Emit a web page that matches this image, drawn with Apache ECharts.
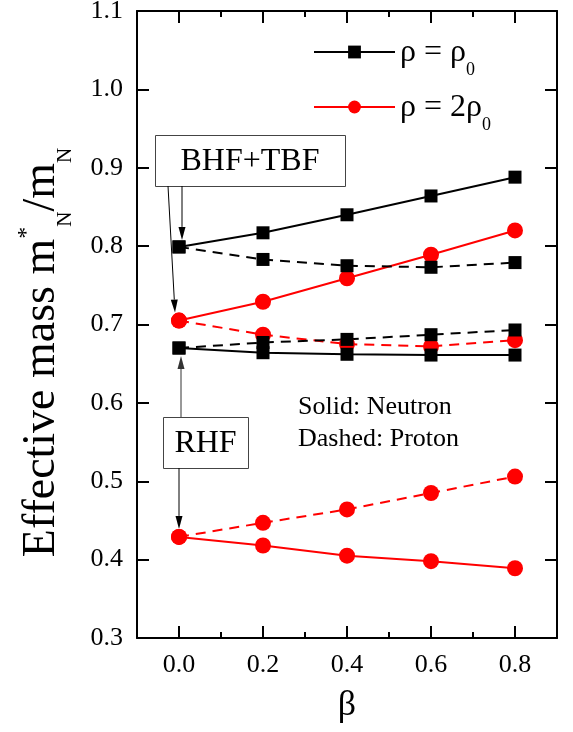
<!DOCTYPE html>
<html>
<head>
<meta charset="utf-8">
<script src="https://cdn.jsdelivr.net/npm/echarts@6/dist/echarts.min.js"></script>
<style>
  html, body { margin: 0; padding: 0; background: #fff; }
  #chart { width: 573px; height: 732px; }
</style>
</head>
<body>
<div id="chart"></div>
<script>
// beta (isospin asymmetry) values
const betaValues = [0.0, 0.2, 0.4, 0.6, 0.8];

// BHF+TBF results
const bhfNeutronRho0 = [0.799, 0.817, 0.840, 0.864, 0.888];
const bhfProtonRho0 = [0.799, 0.783, 0.775, 0.773, 0.779];
const bhfNeutron2Rho0 = [0.705, 0.729, 0.759, 0.789, 0.820];
const bhfProton2Rho0 = [0.705, 0.687, 0.675, 0.672, 0.680];

// RHF results
const rhfNeutronRho0 = [0.670, 0.664, 0.662, 0.661, 0.661];
const rhfProtonRho0 = [0.670, 0.677, 0.681, 0.687, 0.693];
const rhfNeutron2Rho0 = [0.429, 0.418, 0.405, 0.398, 0.389];
const rhfProton2Rho0 = [0.429, 0.447, 0.464, 0.485, 0.506];

const xMajorTicks = [0.0, 0.2, 0.4, 0.6, 0.8];
const xMinorTicks = [0.1, 0.3, 0.5, 0.7];

const FONT = 'Liberation Serif';
const RED = '#ff0000';
const BLACK = '#000000';
const TXT = '#000';

function pairs(ys) {
  return betaValues.map((b, i) => [b, ys[i]]);
}

function makeSeries(name, ys, color, dashed) {
  const isRed = color === RED;
  return {
    name: name,
    type: 'line',
    data: pairs(ys),
    symbol: isRed ? 'circle' : 'rect',
    symbolSize: isRed ? 16 : 13,
    itemStyle: { color: color },
    lineStyle: { color: color, width: 2, type: dashed ? [10, 7] : 'solid' },
    animation: false
  };
}

function xAxisPart(position, ticks, len, showLine, showLabel) {
  return {
    type: 'value', position: position, min: -0.1, max: 0.9,
    splitLine: { show: false },
    axisLine: { show: showLine, onZero: false, lineStyle: { color: BLACK, width: 2 } },
    axisTick: { show: true, inside: true, length: len, customValues: ticks,
                lineStyle: { color: BLACK, width: 2 } },
    axisLabel: { show: showLabel, customValues: ticks, margin: 14,
                 fontFamily: FONT, fontSize: 26, color: TXT,
                 formatter: v => v.toFixed(1) }
  };
}

// arrows from the label boxes to the beta = 0 points
// from: start pixel (box edge), off: pixel offset of the tip from the point
const arrowTargets = [
  [betaValues[0], bhfNeutronRho0[0]],
  [betaValues[0], bhfNeutron2Rho0[0]],
  [betaValues[0], rhfNeutronRho0[0]],
  [betaValues[0], rhfNeutron2Rho0[0]]
];
const arrowLayout = [
  { from: [182, 186], off: [3, -7], color: BLACK },
  { from: [168, 186], off: [-4, -8], color: BLACK },
  { from: [181, 417], off: [2, 8], color: '#333' },
  { from: [179, 468], off: [0, -8], color: BLACK }
];

function renderArrow(params, api) {
  const lay = arrowLayout[params.dataIndex];
  const p = api.coord([api.value(0), api.value(1)]);
  const x1 = lay.from[0], y1 = lay.from[1];
  const x2 = p[0] + lay.off[0], y2 = p[1] + lay.off[1];
  const ang = Math.atan2(y2 - y1, x2 - x1);
  const len = 13, half = 3.5;
  const bx = x2 - len * Math.cos(ang), by = y2 - len * Math.sin(ang);
  const nx = -Math.sin(ang) * half, ny = Math.cos(ang) * half;
  return {
    type: 'group',
    children: [
      { type: 'line', shape: { x1: x1, y1: y1, x2: bx, y2: by },
        style: { stroke: lay.color, lineWidth: 1 } },
      { type: 'polygon', shape: { points: [[x2, y2], [bx + nx, by + ny], [bx - nx, by - ny]] },
        style: { fill: lay.color } }
    ]
  };
}

function box(x, y, w, h, label) {
  return [
    { type: 'rect', shape: { x: x + 0.5, y: y + 0.5, width: w, height: h },
      style: { fill: '#fff', stroke: '#444', lineWidth: 1 }, z: 10 },
    { type: 'text', x: x + w / 2, y: y + h / 2 + 1, z: 11,
      style: { text: label, fontFamily: FONT, fontSize: 32, fill: TXT,
               align: 'center', verticalAlign: 'middle' } }
  ];
}

const chart = echarts.init(document.getElementById('chart'));

chart.setOption({
  backgroundColor: '#fff',
  animation: false,
  grid: { left: 137, right: 16, top: 11, bottom: 94, outerBoundsMode: 'none' },
  legend: {
    orient: 'vertical', left: 313, top: 34, padding: 0,
    itemWidth: 81, itemHeight: 16, itemGap: 10,
    selectedMode: false,
    data: ['rho0', 'rho2'],
    formatter: n => n === 'rho0' ? '{m|ρ = ρ}{s|0}' : '{m|ρ = 2ρ}{s|0}',
    textStyle: {
      fontFamily: FONT, color: TXT,
      rich: {
        m: { fontFamily: FONT, fontSize: 32, lineHeight: 36, verticalAlign: 'top', padding: [3, 0, 0, 0] },
        s: { fontFamily: FONT, fontSize: 18, lineHeight: 18, verticalAlign: 'top', padding: [27, 0, 0, 0] }
      }
    }
  },
  xAxis: [
    Object.assign(xAxisPart('bottom', xMajorTicks, 12, true, true), {
      name: 'β', nameLocation: 'middle', nameGap: 50,
      nameTextStyle: { fontFamily: FONT, fontSize: 36, color: TXT }
    }),
    xAxisPart('bottom', xMinorTicks, 6, false, false),
    xAxisPart('top', xMajorTicks, 12, true, false),
    xAxisPart('top', xMinorTicks, 6, false, false)
  ],
  yAxis: [
    {
      type: 'value', position: 'left', min: 0.3, max: 1.1, interval: 0.1,
      splitLine: { show: false },
      axisLine: { show: true, onZero: false, lineStyle: { color: BLACK, width: 2 } },
      axisTick: { inside: true, length: 12, lineStyle: { color: BLACK, width: 2 } },
      axisLabel: { margin: 14, fontFamily: FONT, fontSize: 26, color: TXT,
                   formatter: v => v.toFixed(1) },
      name: '{m|Effective mass m}{p|*}{s|N}{m|/m}{s|N}',
      nameLocation: 'middle', nameGap: 72,
      nameTextStyle: {
        fontFamily: FONT, color: TXT, padding: [0, 56, 0, 0],
        rich: {
          m: { fontFamily: FONT, fontSize: 46, lineHeight: 52, verticalAlign: 'top', padding: [6, 0, 0, 0] },
          p: { fontFamily: FONT, fontSize: 24, lineHeight: 24, verticalAlign: 'top', padding: [2, 0, 0, 0] },
          s: { fontFamily: FONT, fontSize: 21, lineHeight: 22, verticalAlign: 'top', padding: [42, 0, 0, 0] }
        }
      }
    },
    {
      type: 'value', position: 'right', min: 0.3, max: 1.1, interval: 0.1,
      splitLine: { show: false },
      axisLine: { show: true, onZero: false, lineStyle: { color: BLACK, width: 2 } },
      axisTick: { inside: true, length: 12, lineStyle: { color: BLACK, width: 2 } },
      axisLabel: { show: false }
    }
  ],
  series: [
    makeSeries('rhfP2', rhfProton2Rho0, RED, true),
    makeSeries('rhfN2', rhfNeutron2Rho0, RED, false),
    makeSeries('bhfP2', bhfProton2Rho0, RED, true),
    makeSeries('rho2', bhfNeutron2Rho0, RED, false),
    makeSeries('rhfP0', rhfProtonRho0, BLACK, true),
    makeSeries('rhfN0', rhfNeutronRho0, BLACK, false),
    makeSeries('bhfP0', bhfProtonRho0, BLACK, true),
    makeSeries('rho0', bhfNeutronRho0, BLACK, false),
    {
      name: 'arrows', type: 'custom', data: arrowTargets, renderItem: renderArrow,
      clip: false, silent: true, z: 10, animation: false
    }
  ],
  graphic: [].concat(
    box(155, 135, 190, 51, 'BHF+TBF'),
    box(163, 417, 85, 51, 'RHF'),
    [
      { type: 'text', x: 298, y: 407, z: 11,
        style: { text: 'Solid: Neutron', fontFamily: FONT, fontSize: 26, fill: TXT, verticalAlign: 'middle' } },
      { type: 'text', x: 298, y: 439, z: 11,
        style: { text: 'Dashed: Proton', fontFamily: FONT, fontSize: 26, fill: TXT, verticalAlign: 'middle' } }
    ]
  )
});
</script>
</body>
</html>
